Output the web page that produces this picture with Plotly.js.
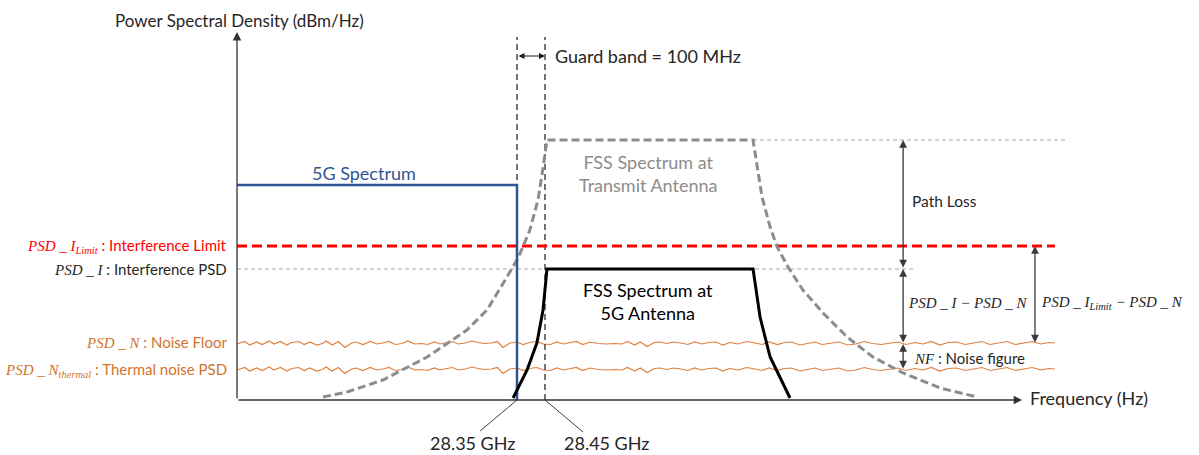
<!DOCTYPE html>
<html>
<head>
<meta charset="utf-8">
<script src="https://cdn.plot.ly/plotly-3.0.1.min.js"></script>
<style>html,body{margin:0;padding:0;background:#fff}#chart{width:1199px;height:455px}</style>
</head>
<body>
<div id="chart"></div>
<script>
// ---------------- data (frequency in GHz, level in relative dB units) ----------------
const axisOriginGHz = 27.35;
const axisEndGHz = 30.154;
const levelAxisTop = 368;
const bandEdgesGHz = [28.35, 28.45];          // 5G upper edge, FSS lower edge (guard band 100 MHz)
const bandEdgeLabels = ['28.35 GHz', '28.45 GHz'];

const fiveGFreq  = [27.35, 28.35, 28.35];
const fiveGLevel = [215, 215, 0];

const fssTxFreq  = [27.657, 27.743, 27.871, 28.029, 28.171, 28.243, 28.314, 28.354, 28.396, 28.425, 28.443, 28.457,
                    29.193, 29.207, 29.225, 29.254, 29.279, 29.318, 29.371, 29.443, 29.529, 29.621, 29.729, 29.861, 29.993];
const fssTxLevel = [3, 8, 20, 43, 70, 90, 123, 142, 170, 200, 232, 260,
                    260, 237, 203, 173, 153, 133, 110, 87, 63, 43, 27, 12, 3];

const fssRxFreq  = [28.336, 28.386, 28.421, 28.443, 28.457, 29.193, 29.204, 29.218, 29.254, 29.289, 29.325];
const fssRxLevel = [2, 30, 57, 90, 131, 131, 110, 83, 43, 22, 2];

const interferenceLimitLevel = 154;   // PSD_I_Limit
const interferencePSDLevel   = 131;   // PSD_I
const fssTxPeakLevel         = 260;
const refLineEndGHz = {limit: 30.271, psdI: 29.764, txPeak: 30.318};

const noiseFreq = [
  27.350, 27.378, 27.395, 27.420, 27.440, 27.465, 27.482, 27.505, 27.528, 27.545,
  27.570, 27.590, 27.610, 27.635, 27.655, 27.668, 27.690, 27.712, 27.735, 27.760,
  27.775, 27.800, 27.825, 27.850, 27.870, 27.893, 27.915, 27.940, 27.960, 27.985,
  28.010, 28.030, 28.055, 28.075, 28.100, 28.120, 28.140, 28.165, 28.190, 28.210,
  28.235, 28.258, 28.280, 28.300, 28.325, 28.350, 28.372, 28.395, 28.420, 28.445,
  28.470, 28.492, 28.515, 28.540, 28.562, 28.585, 28.610, 28.640, 28.670, 28.700,
  28.725, 28.745, 28.770, 28.790, 28.815, 28.840, 28.860, 28.885, 28.910, 28.935,
  28.960, 28.985, 29.010, 29.035, 29.060, 29.085, 29.110, 29.140, 29.170, 29.200,
  29.225, 29.250, 29.280, 29.305, 29.330, 29.360, 29.390, 29.415, 29.440, 29.470,
  29.500, 29.530, 29.560, 29.590, 29.620, 29.650, 29.680, 29.710, 29.740, 29.770,
  29.800, 29.830, 29.860, 29.890, 29.920, 29.950, 29.980, 30.010, 30.040, 30.070,
  30.100, 30.130, 30.160, 30.190, 30.220, 30.250, 30.271];

const noiseFloorLevel = [
  56, 58.5, 55, 58, 55.5, 59, 56, 58.5, 55, 57.5,
  58.5, 55.5, 58, 55, 56.5, 59, 55, 58.5, 52.5, 57,
  58, 55.5, 58.5, 56, 57, 58.5, 55.5, 56.5, 59, 56,
  56.5, 55.5, 58, 56, 57.5, 58.5, 56, 57, 59, 57.5,
  56.5, 57, 58.5, 52.5, 57, 58, 55.5, 57.5, 58.5, 56,
  55.5, 58, 56, 57, 58.5, 55.5, 58, 56.5, 56, 56.5,
  56, 58.5, 55, 58, 53.5, 57.5, 58, 56.5, 58, 57,
  55.5, 58, 56, 57.5, 58, 55, 57.5, 56, 58.5, 57,
  55.5, 58, 55.5, 57.5, 58, 55, 56.5, 58, 55.5, 57,
  58, 55, 56, 58.5, 56.5, 55.5, 57, 58, 55.5, 57.5,
  56, 58.5, 55, 57.5, 58, 55.5, 57, 58.5, 55.5, 57,
  58.5, 55.5, 57, 58.5, 56, 57.5, 57];

const thermalNoiseLevel = [
  30, 32.5, 29, 32, 29.5, 33, 30, 32.5, 29, 31.5,
  32.5, 29.5, 32, 29, 30.5, 33, 29, 32.5, 26.5, 31,
  32, 29.5, 32.5, 30, 31, 32.5, 29.5, 30.5, 33, 30,
  30.5, 29.5, 32, 30, 31.5, 32.5, 30, 31, 33, 31.5,
  30.5, 31, 32.5, 26.5, 31, 32, 29.5, 31.5, 32.5, 30,
  29.5, 32, 30, 31, 32.5, 29.5, 32, 30.5, 30, 30.5,
  30, 32.5, 29, 32, 27.5, 31.5, 32, 30.5, 32, 31,
  29.5, 32, 30, 31.5, 32, 29, 31.5, 30, 32.5, 31,
  29.5, 32, 29.5, 31.5, 32, 29, 30.5, 32, 29.5, 31,
  32, 29, 30, 32.5, 30.5, 29.5, 31, 32, 29.5, 31.5,
  30, 32.5, 29, 31.5, 32, 29.5, 31, 32.5, 29.5, 31,
  32.5, 29.5, 31, 32.5, 30, 31.5, 31];
const noiseFloorRef = 56, thermalRef = 30;

// ---------------- styling ----------------
const SANS = 'Lato, "Open Sans", sans-serif';
const SERIF = 'Liberation Serif';
const TXT = '#262626';
const BLUE = '#2F5597';
const GRAY = '#8C8C8C';
const RED = '#FF0000';
const ORANGE_TXT = '#D0742C';
const ORANGE_LINE = '#E0803F';
const ARROW = '#3A3A3A';

const m = s => '<span style="font-family:' + SERIF + ';font-size:15px"><i>' + s + '</i></span>';

const traces = [
  // reference dotted lines
  {x: [fssTxFreq[12], refLineEndGHz.txPeak], y: [fssTxPeakLevel, fssTxPeakLevel], mode: 'lines',
   line: {color: '#A6A6A6', width: 1, dash: '4px,3px'}},
  {x: [axisOriginGHz, refLineEndGHz.psdI], y: [interferencePSDLevel, interferencePSDLevel], mode: 'lines',
   line: {color: '#A6A6A6', width: 1, dash: '4px,3px'}},
  // noise
  {x: noiseFreq, y: noiseFloorLevel, mode: 'lines', line: {color: ORANGE_LINE, width: 1.2}},
  {x: noiseFreq, y: thermalNoiseLevel, mode: 'lines', line: {color: ORANGE_LINE, width: 1.2}},
  // guard band edges
  {x: [bandEdgesGHz[0], bandEdgesGHz[0]], y: [0, 363], mode: 'lines', line: {color: '#1a1a1a', width: 1.2, dash: '6px,4px'}},
  {x: [bandEdgesGHz[1], bandEdgesGHz[1]], y: [0, 363], mode: 'lines', line: {color: '#1a1a1a', width: 1.2, dash: '6px,4px'}},
  // interference limit
  {x: [axisOriginGHz, refLineEndGHz.limit], y: [interferenceLimitLevel, interferenceLimitLevel], mode: 'lines',
   line: {color: RED, width: 3, dash: '10px,5px'}},
  // FSS at transmit antenna
  {x: fssTxFreq, y: fssTxLevel, mode: 'lines', line: {color: GRAY, width: 3, dash: '8px,4px'}},
  // 5G spectrum
  {x: fiveGFreq, y: fiveGLevel, mode: 'lines', line: {color: BLUE, width: 2.5}},
  // FSS at 5G antenna
  {x: fssRxFreq, y: fssRxLevel, mode: 'lines', line: {color: '#000000', width: 3}},
  // leader lines for band edge labels
  {x: [bandEdgesGHz[0], 28.218], y: [0, -31], mode: 'lines', line: {color: '#404040', width: 1}},
  {x: [bandEdgesGHz[1], 28.586], y: [0, -32], mode: 'lines', line: {color: '#404040', width: 1}}
];
traces.forEach(t => { t.hoverinfo = 'skip'; t.showlegend = false; });

function arrow(x, y, ax, ay, both, w, size, color) {
  return {x: x, y: y, ax: ax, ay: ay, xref: 'x', yref: 'y', axref: 'x', ayref: 'y', text: '',
          showarrow: true, arrowhead: 2, startarrowhead: 2, arrowside: both ? 'end+start' : 'end',
          arrowsize: size, startarrowsize: size, arrowwidth: w, arrowcolor: color, standoff: 0, startstandoff: 0};
}
function label(x, y, text, xanchor, size, color) {
  return {x: x, y: y, xref: 'x', yref: 'y', text: text, showarrow: false, xanchor: xanchor,
          yanchor: 'middle', font: {family: SANS, size: size, color: color}};
}

const xPL = 29.729, xLim = 30.2;
const annotations = [
  // axes
  arrow(axisEndGHz, 0, axisOriginGHz, 0, false, 1.3, 1.3, '#333333'),
  arrow(axisOriginGHz, levelAxisTop, axisOriginGHz, 0, false, 1.3, 1.3, '#333333'),
  // guard band
  arrow(bandEdgesGHz[1], 344, bandEdgesGHz[0], 344, true, 1, 1.2, '#1a1a1a'),
  // measurements
  arrow(xPL, fssTxPeakLevel, xPL, interferencePSDLevel, true, 1.3, 1.2, ARROW),
  arrow(xPL, interferencePSDLevel, xPL, noiseFloorRef, true, 1.3, 1.2, ARROW),
  arrow(xPL, noiseFloorRef, xPL, thermalRef, true, 1.3, 1.2, ARROW),
  arrow(xLim, interferenceLimitLevel, xLim, noiseFloorRef, true, 1.3, 1.2, ARROW),
  // texts
  label(26.907, 380, 'Power Spectral Density (dBm/Hz)', 'left', 17, TXT),
  label(30.175, 2, 'Frequency (Hz)', 'left', 18, TXT),
  label(28.479, 344, 'Guard band = 100 MHz', 'left', 18, TXT),
  label(27.804, 227, '5G Spectrum', 'center', 18, BLUE),
  label(28.818, 226.5, 'FSS Spectrum at<br>Transmit Antenna', 'center', 18, GRAY),
  label(28.818, 99, 'FSS Spectrum at<br>5G Antenna', 'center', 18, '#000000'),
  label(29.754, 199, 'Path Loss', 'left', 15.5, TXT),
  label(29.740, 97, m('PSD _ I − PSD _ N'), 'left', 15, TXT),
  label(30.213, 97, m('PSD _ I<sub>Limit</sub> − PSD _ N'), 'left', 15, TXT),
  label(29.762, 42, m('NF') + ' : Noise figure', 'left', 15, TXT),
  label(28.19, -43, bandEdgeLabels[0], 'center', 18, TXT),
  label(28.668, -43, bandEdgeLabels[1], 'center', 18, TXT),
  // left labels
  label(27.321, interferenceLimitLevel, m('PSD _ I<sub>Limit</sub>') + ' : Interference Limit', 'right', 15, RED),
  label(27.321, interferencePSDLevel, m('PSD _ I') + ' : Interference PSD', 'right', 15, TXT),
  label(27.321, noiseFloorRef + 2, m('PSD _ N') + ' : Noise Floor', 'right', 15, ORANGE_TXT),
  label(27.321, thermalRef, m('PSD _ N<sub>thermal</sub>') + ' : Thermal noise PSD', 'right', 15, ORANGE_TXT)
];

const layout = {
  width: 1199, height: 455,
  margin: {l: 0, r: 0, t: 0, b: 0, pad: 0},
  paper_bgcolor: '#ffffff', plot_bgcolor: '#ffffff',
  showlegend: false,
  xaxis: {range: [26.503571, 30.785714], visible: false, fixedrange: true},
  yaxis: {range: [-55, 400], visible: false, fixedrange: true},
  annotations: annotations
};

Plotly.newPlot('chart', traces, layout, {displayModeBar: false, staticPlot: true});
</script>
</body>
</html>
